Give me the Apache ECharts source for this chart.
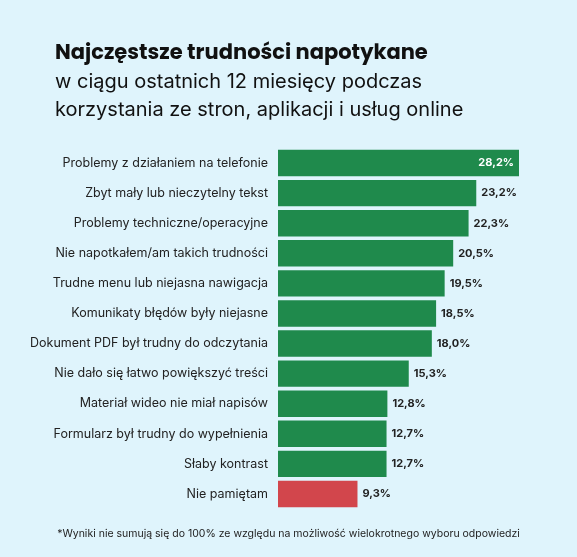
<!DOCTYPE html>
<html><head><meta charset="utf-8">
<script src="https://cdn.jsdelivr.net/npm/echarts@6/dist/echarts.min.js"></script>
<style>html,body{margin:0;padding:0;background:#dff4fc;}#c{width:577px;height:557px;}</style>
</head><body><div id="c"></div>
<script>
const categories = ["Problemy z działaniem na telefonie","Zbyt mały lub nieczytelny tekst","Problemy techniczne/operacyjne","Nie napotkałem/am takich trudności","Trudne menu lub niejasna nawigacja","Komunikaty błędów były niejasne","Dokument PDF był trudny do odczytania","Nie dało się łatwo powiększyć treści","Materiał wideo nie miał napisów","Formularz był trudny do wypełnienia","Słaby kontrast","Nie pamiętam"];
const values = [28.2,23.2,22.3,20.5,19.5,18.5,18.0,15.3,12.8,12.7,12.7,9.3];
const chart = echarts.init(document.getElementById('c'));
const fmt = v => v.toFixed(1).replace('.', ',') + '%';
chart.setOption({
  backgroundColor:'#dff4fc',
  title:{left:50,top:38,text:'Najczęstsze trudności napotykane',
    subtext:'w ciągu ostatnich 12 miesięcy podczas\nkorzystania ze stron, aplikacji i usług online',
    itemGap:4,
    textStyle:{fontFamily:'Poppins, Inter, sans-serif',fontSize:21,fontWeight:'bold',color:'#111'},
    subtextStyle:{fontFamily:'Inter, sans-serif',fontSize:20,color:'#111',lineHeight:28}},
  graphic:[{type:'text',left:'center',top:528,style:{text:'*Wyniki nie sumują się do 100% ze względu na możliwość wielokrotnego wyboru odpowiedzi',fontSize:10.5,fontFamily:'Inter, sans-serif',fill:'#222'}}],
  grid:{left:278,right:58,top:148,bottom:48},
  xAxis:{type:'value',min:0,max:28.2,show:false},
  yAxis:{type:'category',inverse:true,data:categories,axisLine:{show:false},axisTick:{show:false},
    axisLabel:{margin:10,fontSize:12.5,color:'#222',fontFamily:'Inter, sans-serif'}},
  series:[{type:'bar',barCategoryGap:'12%',
    data:values.map((v,i)=>({value:v,
      itemStyle:{color:i===values.length-1?'#d2464c':'#1f8a4c'},
      label:i===0?{position:'insideRight',color:'#fff'}:{position:'right',color:'#222'}})),
    label:{show:true,fontSize:11,fontWeight:'bold',fontFamily:'Inter, sans-serif',formatter:p=>fmt(p.value)}}]
});
</script></body></html>
